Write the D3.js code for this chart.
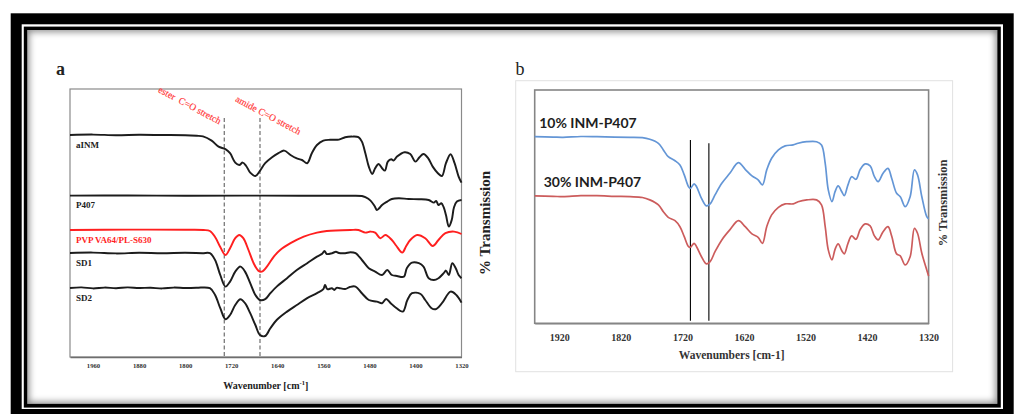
<!DOCTYPE html>
<html>
<head>
<meta charset="utf-8">
<script src="https://cdn.jsdelivr.net/npm/d3@7"></script>
<style>
  html, body { margin: 0; padding: 0; background: #fff; }
  svg { display: block; }
</style>
</head>
<body>
<svg id="fig" width="1022" height="414"></svg>
<script>
// ---------- Panel a: offset FTIR spectra (wavenumber, offset % transmission) ----------
const ticksA = [1960, 1880, 1800, 1720, 1640, 1560, 1480, 1400, 1320];
const bandPositions = [1732, 1670];                 // ester / amide C=O
const bandNames = ["ester  C=O stretch", "amide C=O stretch"];
const seriesNamesA = ["aINM", "P407", "PVP VA64/PL-S630", "SD1", "SD2"];

const aINM = [[2000,111],[1960,111.2],[1920,110.9],[1880,111.1],[1840,111],[1800,110.9],[1780,110.6],[1769,110.3],[1754,108.2],[1742,105.2],[1730,103.9],[1722,101.9],[1713,97.2],[1706,96],[1700,97.2],[1694,95.5],[1687,92.2],[1678,90.5],[1671,92.7],[1661,96.9],[1649,99.9],[1638,101.9],[1628,103.2],[1617,101],[1607,99.4],[1597,98.5],[1588,96.9],[1580,101.9],[1571,106],[1560,108.2],[1548,108.6],[1533,108.7],[1522,109.9],[1510,110.2],[1499,109.9],[1493,107.7],[1487,101.9],[1481,95.2],[1475,91.5],[1470,94.4],[1464,96.5],[1458,94.4],[1453,93.2],[1448,97.7],[1442,98.9],[1438,98.2],[1432,100.2],[1419,102.4],[1409,101.5],[1400,97.7],[1393,99.9],[1386,101.5],[1378,99.4],[1370,95.2],[1361,91.9],[1354,90.5],[1347,96.9],[1339,101.4],[1332,96.9],[1325,90.2],[1320,87.2]];

const P407 = [[2000,80.7],[1900,80.8],[1800,80.6],[1700,80.7],[1600,80.6],[1520,80.6],[1493,80.5],[1487,79.9],[1478,78.2],[1471,75.5],[1467,73.5],[1463,74.4],[1458,76],[1449,77.7],[1441,79],[1429,79.4],[1412,79],[1394,78.9],[1377,78.5],[1368,77.2],[1364,78],[1360,76],[1355,76.9],[1351,74.9],[1347,71],[1342,65.2],[1337,68.5],[1333,74.9],[1328,77.7],[1320,78.5]];

const PVP = [[2000,63.5],[1900,63.7],[1800,63.6],[1768,63.5],[1757,63],[1748,60],[1739,55],[1730,51],[1722,54.4],[1713,59.4],[1706,61],[1699,59.4],[1690,53.5],[1681,46.9],[1673,43.2],[1667,42.7],[1658,45.2],[1646,50.2],[1635,53.5],[1617,56.9],[1594,60.2],[1571,62.2],[1554,63],[1513,63.5],[1499,63.5],[1487,62.2],[1478,62.7],[1470,62.2],[1461,59.4],[1452,61],[1441,58.5],[1433,55.5],[1423,52.2],[1416,55.5],[1409,58.5],[1397,61],[1383,59.4],[1370,55.5],[1360,58.5],[1348,61.9],[1333,62.7],[1320,61.5]];

const SD1 = [[2000,52],[1960,52.2],[1920,51.8],[1880,52.1],[1840,51.9],[1800,52.1],[1770,51.9],[1757,51.9],[1748,48.5],[1739,41],[1730,35.2],[1722,37.7],[1713,42.7],[1704,45.2],[1696,42.7],[1687,36.9],[1678,31],[1670,28.5],[1661,28.9],[1652,31.9],[1641,35.2],[1623,39.4],[1606,43.5],[1588,46.9],[1571,50.2],[1562,51.6],[1558,53],[1554,51.5],[1545,51.9],[1538,52.6],[1533,52],[1522,51.9],[1513,52.4],[1504,51.9],[1493,48.5],[1481,44.4],[1470,42.7],[1458,41],[1449,43.5],[1441,41],[1432,40.5],[1420,40.2],[1415,44.4],[1406,47.2],[1394,46.9],[1386,45.2],[1377,39.4],[1368,38.5],[1360,39.4],[1351,41.9],[1347,43.2],[1342,41],[1336,46.9],[1330,44.4],[1325,41],[1320,39.4]];

const SD2 = [[2000,34.5],[1980,34.8],[1960,34.3],[1940,34.7],[1920,34.4],[1900,34.8],[1880,34.5],[1860,34.6],[1840,34.3],[1820,34.7],[1800,34.5],[1780,34.6],[1757,34.4],[1748,31],[1739,24.4],[1730,18.9],[1722,21],[1713,26],[1704,28.9],[1696,26.9],[1687,21.9],[1678,16],[1670,11],[1661,10.5],[1652,14.4],[1641,18.5],[1623,22.7],[1606,26],[1588,29.4],[1571,31.9],[1560,33.9],[1557,36],[1553,33.9],[1545,34.4],[1541,33.5],[1537,34.6],[1533,34.5],[1522,34],[1514,35],[1504,35.2],[1493,31.9],[1481,28.5],[1467,27.7],[1458,26.9],[1451,29],[1443,26.9],[1435,24.9],[1422,22.7],[1414,28.5],[1406,31.9],[1391,31.5],[1383,28.5],[1372,24.4],[1365,23.9],[1354,26.9],[1339,32.7],[1329,31],[1320,27.2]];

// ---------- Panel b: INM-P407 spectra ----------
const ticksB = [1920, 1820, 1720, 1620, 1520, 1420, 1320];
const markerLines = [1707, 1677];
const seriesNamesB = ["10% INM-P407", "30% INM-P407"];

const inm10 = [[1960,93.3],[1930,93.1],[1914,93],[1885,93.4],[1859,93.3],[1830,93.1],[1805,93],[1785,92.8],[1773,92],[1759,90],[1751,86.7],[1743,83.3],[1732,81.3],[1724,79.2],[1717,74.2],[1710,68.3],[1707,67.5],[1701,69.7],[1697,68.3],[1689,62.5],[1681,58.7],[1675,59.7],[1667,64.2],[1656,70],[1643,75],[1629,80.3],[1618,77],[1607,73.7],[1597,71.7],[1590,69.2],[1583,76.7],[1575,82.5],[1564,86.7],[1553,88.7],[1540,89.2],[1532,90],[1518,90.8],[1502,90.8],[1494,89.2],[1488,80],[1483,66.7],[1477,60.8],[1472,65.8],[1467,68.7],[1461,65.8],[1457,63.8],[1451,69.2],[1445,73.3],[1438,72],[1431,77],[1423,79.7],[1415,78.7],[1408,73.3],[1402,70.8],[1394,75],[1386,77.5],[1380,72.5],[1372,65],[1366,63.3],[1358,58.3],[1350,63.3],[1343,76.7],[1338,74.2],[1331,63.3],[1323,53.3],[1320,52.2]];

const inm30 = [[1960,63.7],[1930,63.5],[1914,63.3],[1885,63.8],[1859,63.8],[1830,63.5],[1805,63.3],[1785,62.9],[1773,61.7],[1759,59.2],[1751,55.8],[1743,53],[1732,51.3],[1724,48.3],[1717,43.3],[1710,38.3],[1707,38],[1701,40],[1697,38.3],[1689,33.3],[1681,29.7],[1675,30.8],[1667,35.8],[1656,41.7],[1643,46.7],[1629,51.3],[1618,48.3],[1607,44.7],[1597,43],[1590,40],[1583,48.3],[1575,54.2],[1564,58],[1553,59.7],[1540,59.7],[1532,60.8],[1518,61.7],[1502,61.7],[1494,59.2],[1488,48.3],[1483,36.7],[1477,31.7],[1472,37],[1467,39.7],[1461,36.3],[1457,34.7],[1451,40],[1445,43.7],[1438,42],[1431,47],[1423,49.7],[1415,48.7],[1408,43.7],[1402,41.7],[1394,45.8],[1386,48.3],[1380,43.7],[1372,34.7],[1366,33.7],[1358,29.2],[1350,33.3],[1343,47.5],[1338,45],[1331,35],[1323,26.7],[1320,23.7]];

// ---------- drawing ----------
const svg = d3.select("#fig");
const serif = "'Liberation Serif','Times New Roman',serif";
const defs = svg.append("defs");

// page frame: heavy black border, white rule, thin black rule, soft inner shadow
svg.append("rect").attr("x", 10.7).attr("y", 13.3).attr("width", 1003).attr("height", 420).attr("fill", "#000");
svg.append("rect").attr("x", 21.7).attr("y", 24.3).attr("width", 981.3).attr("height", 384.7).attr("fill", "#fff");
svg.append("rect").attr("x", 23.8).attr("y", 26.6).attr("width", 977).attr("height", 381).attr("fill", "#000");
svg.append("rect").attr("x", 27.3).attr("y", 30).attr("width", 970).attr("height", 373.8).attr("fill", "#fff");

defs.append("clipPath").attr("id", "innerClip")
  .append("rect").attr("x", 27.3).attr("y", 30).attr("width", 970).attr("height", 373.8);
defs.append("filter").attr("id", "soft").attr("x", "-5%").attr("y", "-5%").attr("width", "110%").attr("height", "110%")
  .append("feGaussianBlur").attr("stdDeviation", 3.5);
svg.append("g").attr("clip-path", "url(#innerClip)")
  .append("rect").attr("x", 25.3).attr("y", 28).attr("width", 974).attr("height", 377.8)
  .attr("fill", "none").attr("stroke", "#000").attr("stroke-width", 7).attr("opacity", 0.5)
  .attr("filter", "url(#soft)");

// ===== Panel a =====
const A = { left: 70, right: 461.5, top: 89, bottom: 357 };
const xA = d3.scaleLinear().domain([2000, 1320]).range([A.left, A.right]);
const yA = d3.scaleLinear().domain([0, 134]).range([A.bottom, A.top]);
const gA = svg.append("g");

gA.append("text").attr("x", 56).attr("y", 75).attr("font-family", serif).attr("font-weight", "bold")
  .attr("font-size", 18).attr("fill", "#222").text("a");

gA.append("rect").attr("x", A.left).attr("y", A.top).attr("width", A.right - A.left).attr("height", A.bottom - A.top)
  .attr("fill", "#fff").attr("stroke", "#8a8a8a").attr("stroke-width", 1.2);

const axA = gA.append("g").attr("transform", `translate(0,${A.bottom})`)
  .call(d3.axisBottom(xA).tickValues(ticksA).tickSize(0).tickPadding(6).tickFormat(d3.format("d")));
axA.select(".domain").attr("stroke", "#6e6e6e").attr("stroke-width", 1.4);
axA.selectAll("text").attr("font-family", serif).attr("font-weight", "bold").attr("font-size", 6.7).attr("fill", "#333");

// band guide lines
const bandTop = 119.5;
gA.selectAll(".band").data(bandPositions).join("line")
  .attr("x1", d => xA(d)).attr("x2", d => xA(d))
  .attr("y1", yA(bandTop)).attr("y2", yA(0))
  .attr("stroke", "#7a7a7a").attr("stroke-width", 1.3).attr("stroke-dasharray", "4,2.5");

// band annotations (rotated, red)
const bandLabelAnchors = [[1848, 132.6], [1714, 128]];
gA.selectAll(".bandLabel").data(bandNames).join("text")
  .attr("transform", (d, i) => `translate(${xA(bandLabelAnchors[i][0])},${yA(bandLabelAnchors[i][1])}) rotate(28)`)
  .attr("font-family", serif).attr("font-size", 9.6).attr("fill", "#ff3535")
  .attr("stroke", "#ff3535").attr("stroke-width", 0.15)
  .style("white-space", "pre").attr("xml:space", "preserve").text(d => d);

const lineA = d3.line().x(d => xA(d[0])).y(d => yA(d[1])).curve(d3.curveCatmullRom.alpha(0.5));
const seriesA = [aINM, P407, PVP, SD1, SD2];
const colorsA = ["#1c1c1c", "#1c1c1c", "#ff1f1f", "#1c1c1c", "#1c1c1c"];
gA.selectAll(".specA").data(seriesA).join("path")
  .attr("d", lineA).attr("fill", "none")
  .attr("stroke", (d, i) => colorsA[i]).attr("stroke-width", 1.95).attr("stroke-linejoin", "round");

gA.selectAll(".nameA").data(seriesNamesA).join("text")
  .attr("x", A.left + 6).attr("y", (d, i) => yA(seriesA[i][0][1]) + 12.5)
  .attr("font-family", serif).attr("font-weight", "bold").attr("font-size", 9)
  .attr("fill", (d, i) => i === 2 ? "#ff1f1f" : "#222").text(d => d);

gA.append("text").attr("x", (A.left + A.right) / 2).attr("y", 389).attr("text-anchor", "middle")
  .attr("font-family", serif).attr("font-weight", "bold").attr("font-size", 10).attr("fill", "#222")
  .call(t => { t.append("tspan").text("Wavenumber  [cm");
               t.append("tspan").attr("font-size", 6.5).attr("dy", -4).text("-1");
               t.append("tspan").attr("dy", 4).text("]"); });

gA.append("text").attr("transform", "translate(490,223) rotate(-90)").attr("text-anchor", "middle")
  .attr("font-family", serif).attr("font-weight", "bold").attr("font-size", 15).attr("fill", "#222")
  .text("% Transmission");

// ===== Panel b =====
const B = { left: 534.7, right: 928.6, top: 90, bottom: 323.3 };
const xB = d3.scaleLinear().domain([1960, 1320]).range([B.left, B.right]);
const yB = d3.scaleLinear().domain([0, 116.65]).range([B.bottom, B.top]);
const gB = svg.append("g");

gB.append("text").attr("x", 515.5).attr("y", 75).attr("font-family", serif)
  .attr("font-size", 18).attr("fill", "#222").text("b");

gB.append("rect").attr("x", 515.7).attr("y", 80.7).attr("width", 952.6 - 515.7).attr("height", 371.7 - 80.7)
  .attr("fill", "#fff").attr("stroke", "#e2e2e2").attr("stroke-width", 1);

gB.append("rect").attr("x", B.left).attr("y", B.top).attr("width", B.right - B.left).attr("height", B.bottom - B.top)
  .attr("fill", "#fff").attr("stroke", "#858585").attr("stroke-width", 1.6);

const axB = gB.append("g").attr("transform", `translate(0,${B.bottom})`)
  .call(d3.axisBottom(xB).tickValues(ticksB).tickSize(0).tickPadding(10.5).tickFormat(d3.format("d")));
axB.select(".domain").attr("stroke", "#858585").attr("stroke-width", 1.6);
axB.selectAll("text").attr("font-family", serif).attr("font-weight", "bold").attr("font-size", 10).attr("fill", "#333");

gB.selectAll(".marker").data(markerLines).join("line")
  .attr("x1", d => xB(d)).attr("x2", d => xB(d))
  .attr("y1", (d, i) => yB(i === 0 ? 91.6 : 90)).attr("y2", yB(1.3))
  .attr("stroke", "#000").attr("stroke-width", 1.1);

const lineB = d3.line().x(d => xB(d[0])).y(d => yB(d[1])).curve(d3.curveCatmullRom.alpha(0.5));
const seriesB = [inm10, inm30];
const colorsB = ["#6496d6", "#cc5c5c"];
gB.selectAll(".specB").data(seriesB).join("path")
  .attr("d", lineB).attr("fill", "none")
  .attr("stroke", (d, i) => colorsB[i]).attr("stroke-width", 1.7).attr("stroke-linejoin", "round");

gB.selectAll(".nameB").data(seriesNamesB).join("text")
  .attr("x", (d, i) => B.left + (i === 0 ? 4.5 : 9))
  .attr("y", (d, i) => yB(seriesB[i][0][1]) - 8.5)
  .attr("font-family", "Lato, 'Open Sans', sans-serif").attr("font-weight", "bold").attr("font-size", 14)
  .attr("fill", "#1e1e1e").text(d => d);

gB.append("text").attr("x", (B.left + B.right) / 2).attr("y", 359).attr("text-anchor", "middle")
  .attr("font-family", serif).attr("font-weight", "bold").attr("font-size", 11.5).attr("fill", "#333")
  .text("Wavenumbers [cm-1]");

gB.append("text").attr("transform", "translate(947,203) rotate(-90)").attr("text-anchor", "middle")
  .attr("font-family", serif).attr("font-weight", "bold").attr("font-size", 12.5).attr("fill", "#333")
  .text("% Transmission");
</script>
</body>
</html>
